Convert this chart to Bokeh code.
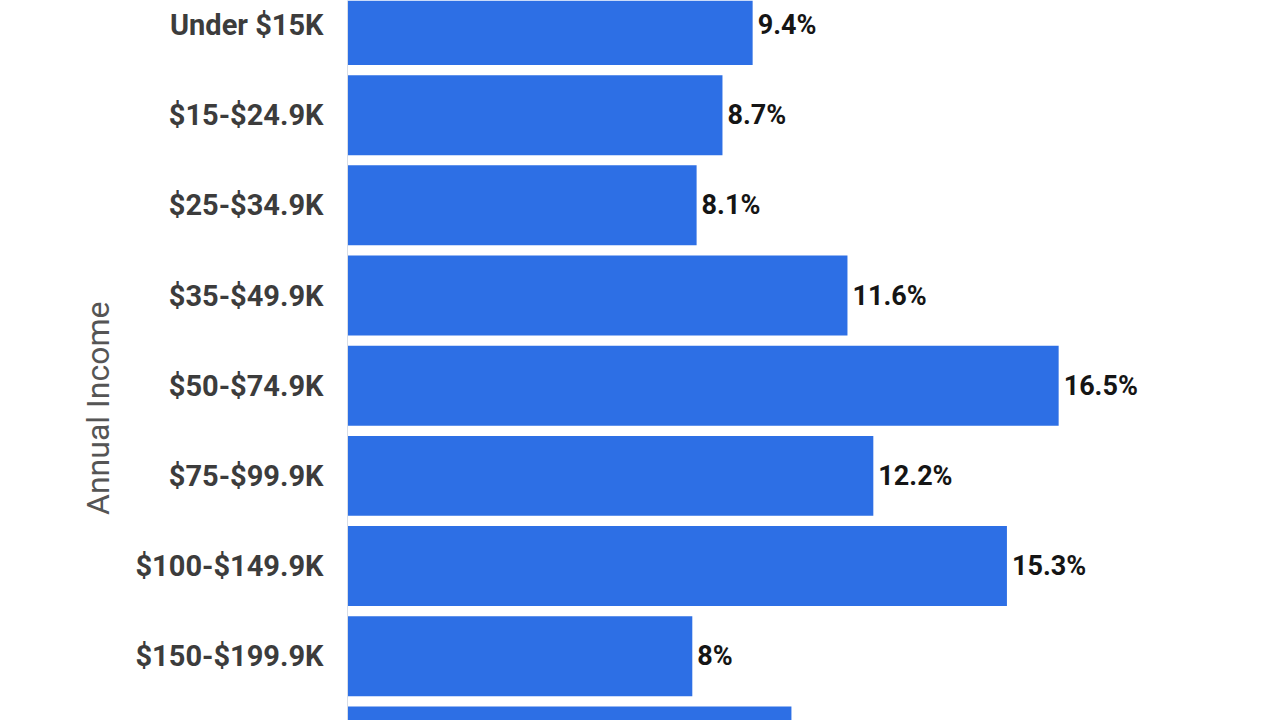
import math
from bokeh.plotting import figure
from bokeh.models import ColumnDataSource, Range1d, LabelSet, Label, Span
from bokeh.core.properties import value
from bokeh.embed import file_html
from bokeh.resources import INLINE

categories = ["Under $15K", "$15-$24.9K", "$25-$34.9K", "$35-$49.9K", "$50-$74.9K",
              "$75-$99.9K", "$100-$149.9K", "$150-$199.9K", "$200K+"]
values = [9.4, 8.7, 8.1, 11.6, 16.5, 12.2, 15.3, 8.0, 10.3]
value_labels = ["9.4%", "8.7%", "8.1%", "11.6%", "16.5%", "12.2%", "15.3%", "8%", "10.3%"]
axis_title = "Annual Income"

idx = list(range(len(categories)))
src = ColumnDataSource(dict(y=idx, v=values, lab=value_labels, cat=categories,
                            zero=[0] * len(idx)))

p = figure(width=1279, height=720, output_backend="svg", toolbar_location=None,
           x_range=Range1d(-8.051, 21.624), y_range=Range1d(7.713, -0.272),
           min_border_left=0, min_border_right=0, min_border_top=0, min_border_bottom=0)
p.outline_line_color = None
p.background_fill_color = "white"
p.border_fill_color = "white"
p.xgrid.visible = False
p.ygrid.visible = False
p.xaxis.visible = False
p.yaxis.visible = False

p.hbar(y="y", right="v", left=0, height=0.887, source=src,
       fill_color="#2d6fe5", line_color=None)

p.add_layout(Span(location=0, dimension="height", line_color="#d8dde6", line_width=1))

vlabels = LabelSet(x="v", y="y", text="lab", source=src, x_offset=5,
                   text_align="left", text_baseline="middle",
                   text_font=value("Roboto"), text_font_style="bold",
                   text_font_size="27px", text_color="#151515")
p.add_layout(vlabels)

clabels = LabelSet(x="zero", y="y", text="cat", source=src, x_offset=-24,
                   text_align="right", text_baseline="middle",
                   text_font=value("Roboto"), text_font_style="bold",
                   text_font_size="29px", text_color="#3c3c3c")
p.add_layout(clabels)

title_lab = Label(x=-5.78, y=4.25, text=axis_title, angle=math.pi / 2,
                  text_align="center", text_baseline="middle",
                  text_font="Roboto", text_font_style="normal",
                  text_font_size="32px", text_color="#555555")
p.add_layout(title_lab)

open("out.html", "w").write(file_html(p, INLINE))
